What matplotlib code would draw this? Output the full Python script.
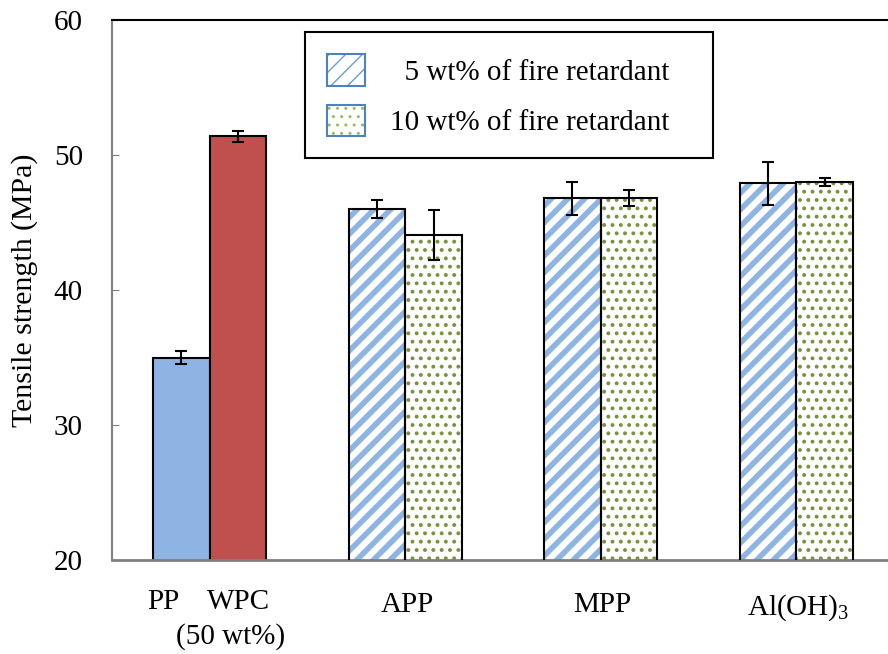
import matplotlib
matplotlib.use("Agg")
import matplotlib.pyplot as plt
from matplotlib.patches import Patch
from matplotlib.legend_handler import HandlerTuple
from matplotlib.transforms import blended_transform_factory
import numpy as np

plt.rcParams['font.family'] = ['Liberation Serif', 'DejaVu Serif']
plt.rcParams['mathtext.fontset'] = 'custom'
plt.rcParams['mathtext.rm'] = 'Liberation Serif'
plt.rcParams['mathtext.it'] = 'Liberation Serif:italic'

# ---- data ----
ref_labels = ["PP", "WPC"]
ref_values = [35.0, 51.4]
ref_errors = [0.48, 0.40]

fr_categories = ["APP", "MPP", "Al(OH)$_3$"]
fr5_values = [46.0, 46.8, 47.9]
fr5_errors = [0.63, 1.22, 1.57]
fr10_values = [44.1, 46.8, 48.0]
fr10_errors = [1.85, 0.60, 0.33]

series_labels = ["  5 wt% of fire retardant", "10 wt% of fire retardant"]
yticks = [20, 30, 40, 50, 60]

FS = 21
W, H = 888, 654
fig = plt.figure(figsize=(W / 100, H / 100), dpi=100)
ax = fig.add_axes([112 / W, 1 - 560 / H, 782 / W, 540 / H])

bw = 0.29
blue = "#8EB4E3"
red = "#C0504D"
green = "#77933C"

# reference bars (group 0)
ax.bar([-bw / 2, bw / 2], ref_values, width=bw, color=[blue, red],
       edgecolor="black", linewidth=1.5, zorder=2)
ax.errorbar([-bw / 2, bw / 2], ref_values, yerr=ref_errors, fmt="none",
            ecolor="black", elinewidth=1.5, capsize=4.5, capthick=1.5, zorder=4)

xg = np.arange(1, len(fr_categories) + 1)
x5 = xg - bw / 2
x10 = xg + bw / 2

with plt.rc_context({'hatch.linewidth': 4.0}):
    ax.bar(x5, fr5_values, width=bw, color="white", edgecolor=blue,
           hatch="//", linewidth=0, zorder=2)
with plt.rc_context({'hatch.linewidth': 1.6}):
    ax.bar(x10, fr10_values, width=bw, color="white", edgecolor=green,
           hatch="..", linewidth=0, zorder=2)
ax.bar(x5, fr5_values, width=bw, fill=False, edgecolor="black", linewidth=1.5, zorder=3)
ax.bar(x10, fr10_values, width=bw, fill=False, edgecolor="black", linewidth=1.5, zorder=3)
ax.errorbar(x5, fr5_values, yerr=fr5_errors, fmt="none", ecolor="black",
            elinewidth=1.5, capsize=4.5, capthick=1.5, zorder=4)
ax.errorbar(x10, fr10_values, yerr=fr10_errors, fmt="none", ecolor="black",
            elinewidth=1.5, capsize=4.5, capthick=1.5, zorder=4)

ax.set_xlim(-0.5, 3.5)
ax.set_ylim(20, 60)
ax.set_yticks(yticks)
ax.tick_params(axis="y", direction="in", length=5, color="#808080",
               labelsize=FS, pad=21)
ax.set_xticks(xg + 0.01)
ax.set_xticklabels(fr_categories)
ax.tick_params(axis="x", length=0, labelsize=FS, pad=23)

tr = blended_transform_factory(ax.transData, ax.transAxes)
ax.text(-0.145 - 0.09, -0.053, ref_labels[0], transform=tr, ha="center", va="top", fontsize=FS)
ax.text(0.145, -0.053, ref_labels[1], transform=tr, ha="center", va="top", fontsize=FS)
ax.text(0.105, -0.117, "(50 wt%)", transform=tr, ha="center", va="top", fontsize=FS)

ax.set_ylabel("Tensile strength (MPa)", fontsize=21.5, labelpad=11)

ax.spines["right"].set_visible(False)
ax.spines["top"].set_color("black")
ax.spines["top"].set_linewidth(1.5)
ax.spines["left"].set_color("#808080")
ax.spines["left"].set_linewidth(1.5)
ax.spines["bottom"].set_color("#808080")
ax.spines["bottom"].set_linewidth(2)

# legend
edge_blue = "#4F81BD"
with plt.rc_context({'hatch.linewidth': 4.0}):
    h5 = Patch(facecolor="white", edgecolor="#6F9BD6", hatch="//", linewidth=0)
with plt.rc_context({'hatch.linewidth': 1.3}):
    h10 = Patch(facecolor="white", edgecolor="#9BBB59", hatch="..", linewidth=0)
e5 = Patch(fill=False, edgecolor=edge_blue, linewidth=1.5)
e10 = Patch(fill=False, edgecolor=edge_blue, linewidth=1.5)
leg = ax.legend([(h5, e5), (h10, e10)], [l + "   " for l in series_labels],
                handler_map={tuple: HandlerTuple(ndivide=1)},
                loc="upper left", bbox_to_anchor=(305 / W, 1 - 32 / H),
                bbox_transform=fig.transFigure, fontsize=FS, frameon=True,
                fancybox=False, edgecolor="black", framealpha=1,
                handlelength=1.3, handleheight=1.3, labelspacing=0.65,
                borderpad=0.75, handletextpad=0.85, borderaxespad=0)
leg.get_frame().set_linewidth(1.5)
leg.set_zorder(5)

fig.savefig("out.png", dpi=100)
